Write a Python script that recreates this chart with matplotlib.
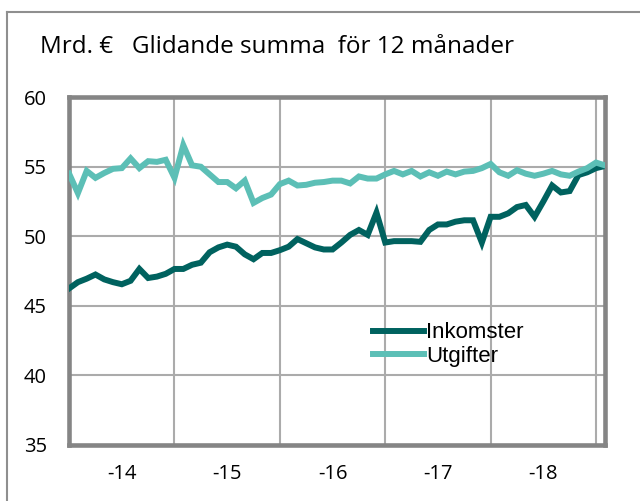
import matplotlib.pyplot as plt
from matplotlib.lines import Line2D

# månadsdata jan 2014 - feb 2019, glidande 12 mån summa (mrd. €)
inkomster = [46.25, 46.7, 46.95, 47.25, 46.9, 46.7, 46.55, 46.8, 47.65, 47.0, 47.1, 47.3,
             47.65, 47.65, 47.95, 48.1, 48.85, 49.2, 49.4, 49.25, 48.7, 48.35, 48.8, 48.8,
             49.0, 49.25, 49.8, 49.5, 49.2, 49.05, 49.05, 49.55, 50.1, 50.45, 50.1, 51.7,
             49.55, 49.65, 49.65, 49.65, 49.6, 50.45, 50.85, 50.85, 51.05, 51.15, 51.15, 49.55,
             51.4, 51.4, 51.65, 52.1, 52.25, 51.4, 52.5, 53.65, 53.15, 53.25, 54.4, 54.6,
             54.9, 55.05]
utgifter = [54.5, 53.1, 54.7, 54.2, 54.55, 54.85, 54.9, 55.6, 54.9, 55.4, 55.35, 55.5,
            54.2, 56.55, 55.1, 55.0, 54.45, 53.9, 53.9, 53.45, 54.0, 52.4, 52.75, 53.0,
            53.75, 54.0, 53.65, 53.7, 53.85, 53.9, 54.0, 54.0, 53.8, 54.3, 54.15, 54.15,
            54.45, 54.7, 54.45, 54.7, 54.3, 54.6, 54.35, 54.65, 54.45, 54.65, 54.7, 54.9,
            55.2, 54.6, 54.35, 54.75, 54.5, 54.35, 54.5, 54.7, 54.45, 54.35, 54.65, 54.9,
            55.3, 55.1]
ar_etiketter = ['-14', '-15', '-16', '-17', '-18']
man = list(range(len(inkomster)))

morkgron = '#00625f'
ljusgron = '#5cbfb6'
ram = '#858585'

fig = plt.figure(figsize=(6.4, 5.01), dpi=100)
ax = fig.add_axes([0.108, 0.112, 0.837, 0.694])

ax.plot(man, inkomster, color=morkgron, lw=4.3, solid_joinstyle='miter', label='Inkomster', zorder=3)
ax.plot(man, utgifter, color=ljusgron, lw=4.3, solid_joinstyle='miter', label='Utgifter', zorder=3)

ax.set_xlim(0, 61)
ax.set_ylim(35, 60)
ax.set_yticks([35, 40, 45, 50, 55, 60])
ax.set_xticks([6, 18, 30, 42, 54])
ax.set_xticklabels(ar_etiketter)
ax.set_xticks([12, 24, 36, 48, 60], minor=True)
ax.tick_params(axis='both', which='both', length=0, labelsize=14.5)
ax.tick_params(axis='x', pad=14)
ax.tick_params(axis='y', pad=16)
for lbl in ax.get_xticklabels() + ax.get_yticklabels():
    lbl.set_family(['Open Sans', 'DejaVu Sans'])

ax.grid(True, axis='y', which='major', color='#ababab', lw=1.5, zorder=1)
ax.grid(True, axis='x', which='minor', color='#ababab', lw=1.5, zorder=1)
for s in ax.spines.values():
    s.set_color(ram)
    s.set_linewidth(3.3)

ax.legend(loc='upper left', bbox_to_anchor=(0.53, 0.41), frameon=False,
          handlelength=2.3, handletextpad=0.1, labelspacing=0.1,
          prop={'family': ['Liberation Sans Narrow', 'Liberation Sans'], 'size': 16})

fig.text(0.062, 0.907, 'Mrd. €   Glidande summa  för 12 månader', fontsize=17.5,
         family=['Open Sans', 'DejaVu Sans'], va='center', ha='left')

# ram runt figuren
fig.add_artist(Line2D([0.011, 0.011], [0, 0.976], color='#8f8f8f', lw=1.5, transform=fig.transFigure))
fig.add_artist(Line2D([0.011, 1], [0.976, 0.976], color='#8f8f8f', lw=1.5, transform=fig.transFigure))

fig.savefig('out.png', dpi=100)
